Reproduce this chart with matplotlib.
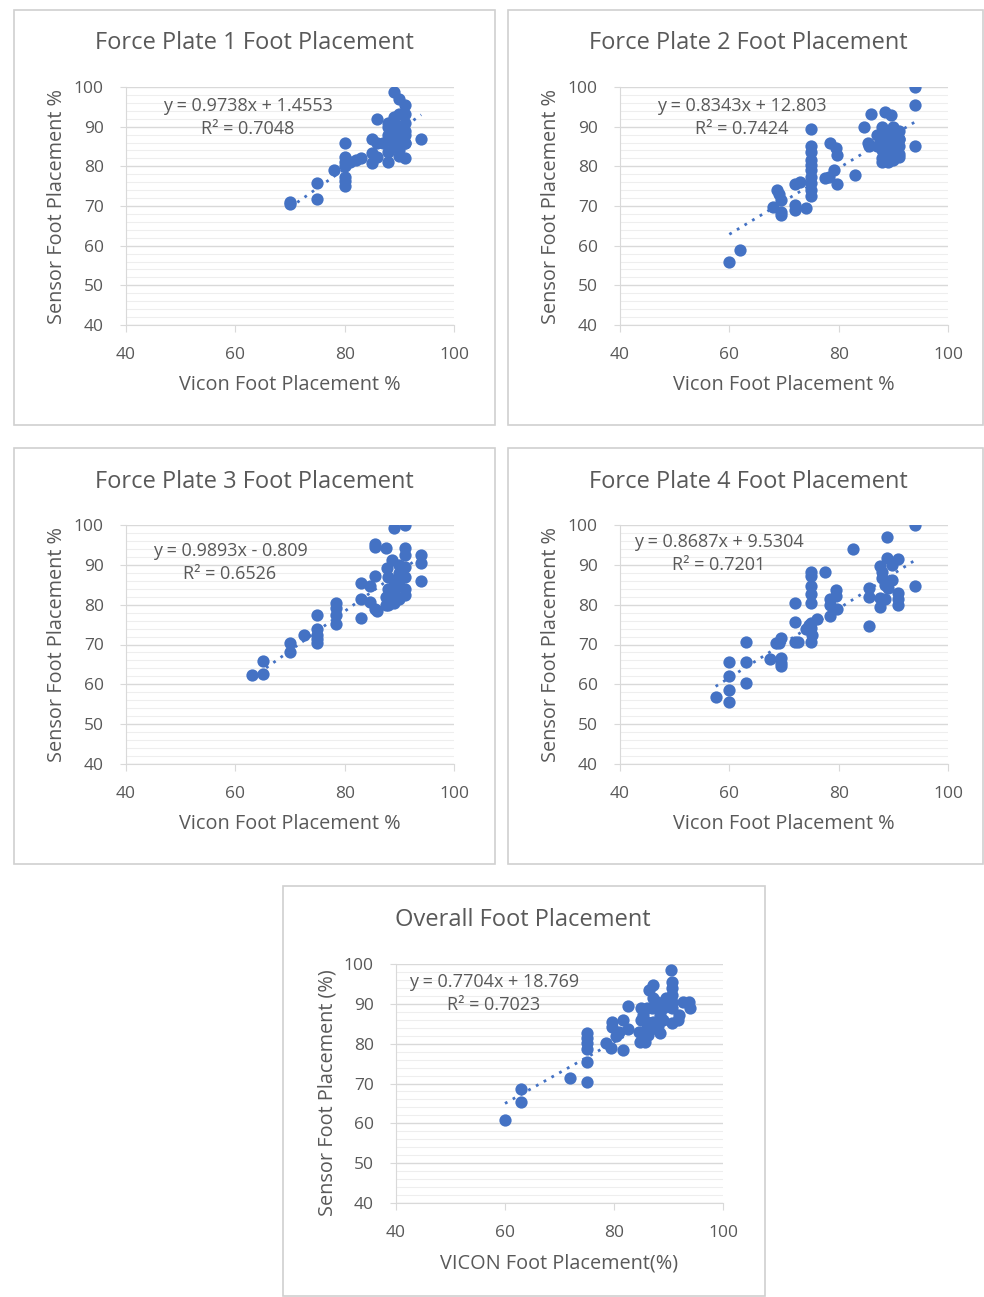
import numpy as np
import matplotlib
matplotlib.use("Agg")
import matplotlib.pyplot as plt
from matplotlib.patches import Rectangle

plt.rcParams['font.family'] = ['Open Sans', 'DejaVu Sans']

# ---- data ----
titles = ["Force Plate 1 Foot Placement", "Force Plate 2 Foot Placement",
          "Force Plate 3 Foot Placement", "Force Plate 4 Foot Placement",
          "Overall Foot Placement"]
xlabels = ["Vicon Foot Placement %"] * 4 + ["VICON Foot Placement(%)"]
ylabels = ["Sensor Foot Placement %"] * 4 + ["Sensor Foot Placement (%)"]
slopes = [0.9738, 0.8343, 0.9893, 0.8687, 0.7704]
intercepts = [1.4553, 12.803, -0.809, 9.5304, 18.769]
equations = ["y = 0.9738x + 1.4553\nR² = 0.7048",
             "y = 0.8343x + 12.803\nR² = 0.7424",
             "y = 0.9893x - 0.809\nR² = 0.6526",
             "y = 0.8687x + 9.5304\nR² = 0.7201",
             "y = 0.7704x + 18.769\nR² = 0.7023"]
axis_ticks = [40, 60, 80, 100]
y_ticks = [40, 50, 60, 70, 80, 90, 100]

fp1_x = [70, 70, 75, 75, 78, 80, 80, 80, 80, 80, 80, 80, 82, 83, 81, 85, 85, 85, 86, 86,
         86, 88, 88, 88, 88, 89, 90, 91, 91, 91, 90, 89, 88, 89, 90, 91, 89, 90, 91, 91,
         90, 89, 88, 87, 90, 91, 94, 91]
fp1_y = [70.5, 71, 75.7, 71.7, 79, 85.8, 82.4, 81.2, 80, 77.4, 76.2, 75.1, 81.5, 82, 81, 87, 83.4, 80.8, 85.8, 82.4,
         92, 81, 83.7, 86.6, 90.8, 98.7, 97, 95.4, 93.3, 90.8, 93.3, 92.5, 90, 88, 87, 86, 85, 84, 88, 89,
         90, 91, 88, 86, 82.5, 82, 87, 86]

fp2_x = [60, 62, 68, 69, 69.4, 69.4, 69.4, 68.8, 72, 72, 72, 73, 74, 75, 75, 75, 75, 75, 75, 75,
         75, 75, 75, 77.5, 78.3, 79.2, 78.5, 79.5, 79.7, 79.7, 83, 86, 84.7, 85.3, 85.6, 88.5, 89.6,
         88, 89, 90, 91, 88, 89, 90, 88, 89, 88, 89, 90, 91, 91, 87, 87, 90, 91, 88, 91, 94, 94, 94, 91]
fp2_y = [56, 59, 69.7, 73, 71.5, 68.6, 67.8, 74, 70.3, 69, 75.6, 76, 69.6, 89.3, 85, 83.7, 81.6, 80.3, 79, 77.4,
         75.7, 74, 72.4, 77, 77.4, 79.2, 85.8, 84.5, 82.8, 75.6, 77.8, 93.3, 89.8, 85.8, 85.1, 93.7, 92.9,
         90, 89, 88, 87, 87, 86, 85, 84, 83, 82, 81, 81.5, 85, 83, 88, 85, 90, 89, 81, 82.3, 100, 95.4, 85.1, 87]

fp3_x = [63, 65, 65, 70, 70, 72.5, 75, 75, 75, 75, 75, 78.5, 78.5, 78.5, 78.5, 83, 83, 83, 84.7, 85.6,
         85.6, 85.5, 87.6, 84.7, 85.6, 86, 89, 91, 91, 91, 87.7, 88.7, 88, 89, 90, 91, 88, 89, 90, 91,
         88, 89, 90, 91, 88, 89, 90, 91, 87.5, 87.5, 94, 94, 94]
fp3_y = [62.3, 65.8, 62.7, 70.4, 68.2, 72.5, 77.3, 73.8, 72.5, 71.3, 70.3, 80.4, 79.2, 77.5, 75.2, 85.4, 81.3, 76.7, 84.6, 87.1,
         95.2, 94.6, 94.3, 80.7, 78.8, 78.3, 99.3, 100, 94.3, 92.5, 89.2, 91.3, 87, 86, 88, 87, 84, 83, 85, 84,
         81.5, 80.5, 81.5, 82.5, 80, 82, 90, 89.5, 82, 80, 92.5, 90.4, 86]

fp4_x = [57.5, 60, 60, 60, 60, 63, 63, 63, 67.5, 68.5, 69.4, 69.4, 69.4, 69.4, 69, 72, 72, 72, 72.5, 75,
         75, 75, 75, 75, 75, 75, 75, 74.5, 74, 76, 75.2, 77.5, 78.5, 78.5, 78.5, 79.5, 79.5, 79.7, 82.6,
         85.5, 85.5, 85.5, 88.8, 88.8, 90.8, 87.6, 88, 88, 88.5, 87.6, 87.6, 88.5, 89.8, 89.8, 90.8, 90.8,
         90.8, 89, 94, 94]
fp4_y = [56.7, 55.6, 58.6, 62.1, 65.7, 70.6, 65.7, 60.4, 66.3, 70.4, 71.7, 66.7, 65.4, 64.5, 70.5, 80.4, 75.6, 70.6, 70.6, 88.3,
         87.2, 84.6, 82.8, 80.4, 75.4, 74.2, 70.6, 75, 73.8, 76.5, 72.5, 88.3, 81.3, 80, 77.1, 83.8, 82.1, 78.8, 94,
         84.2, 81.8, 74.7, 97.1, 91.8, 91.5, 89.6, 88.3, 86.7, 85, 81.7, 79.3, 81.3, 90, 86.3, 82.9, 80,
         81.3, 84.2, 100, 84.8]

all_x = [60, 63, 63, 72, 75, 75, 75, 75, 75, 75, 78.6, 79.5, 81.6, 79.7, 79.7, 81, 81.6, 82.6, 82.6, 80.4,
         84.7, 85.6, 87.2, 86.5, 87.8, 89, 88.4, 87.2, 87.8, 88.4, 86, 85.3, 85, 89.6, 87.2, 86, 86.2,
         90.5, 90.7, 90.7, 90.7, 90.7, 90.7, 90.7, 92, 92.7, 93.8, 93.9, 91.7, 85, 86, 87, 88, 89, 84.5]
all_y = [60.8, 68.5, 65.4, 71.5, 70.5, 75.5, 78.6, 80.1, 81.3, 82.6, 80.1, 78.8, 78.4, 85.5, 84.3, 83, 85.9, 83.8, 89.5, 81.8,
         80.5, 80.5, 94.7, 93.5, 90.5, 88.9, 87.2, 85.5, 83.8, 82.6, 85.5, 87.2, 88.9, 91.4, 91.4, 88.9, 82.2,
         98.5, 95.6, 93.9, 92.2, 90.5, 88.9, 85.1, 87.2, 90.5, 90.5, 88.9, 85.9, 86, 84, 89, 84.5, 86, 83]

xs = [fp1_x, fp2_x, fp3_x, fp4_x, all_x]
ys = [fp1_y, fp2_y, fp3_y, fp4_y, all_y]

# ---- layout (pixels in the 984x1297 picture) ----
W, H = 984, 1297
axes_px = [(126, 87, 454, 325), (620, 87, 948, 325),
           (126, 525, 454, 764), (620, 525, 948, 764),
           (396, 964, 723, 1203)]
boxes_px = [(14, 10, 495, 425), (508, 10, 983, 425),
            (14, 448, 495, 864), (508, 448, 983, 864),
            (283, 886, 765, 1296)]
title_pos = [(254, 43), (748, 43), (254, 482), (748, 482), (523, 920)]
eq_pos = [(0.372, 0.957), (0.372, 0.957), (0.317, 0.927), (0.302, 0.967), (0.30, 0.964)]
ylabel_y = [0.5, 0.5, 0.5, 0.5, 0.46]

blue = '#4472C4'
txt = '#595959'

fig = plt.figure(figsize=(W / 100, H / 100), dpi=100)

for (x0, y0, x1, y1) in boxes_px:
    fig.patches.append(Rectangle((x0 / W, 1 - y1 / H), (x1 - x0) / W, (y1 - y0) / H,
                                 transform=fig.transFigure, fill=False,
                                 edgecolor='#d0d0d0', linewidth=1.2))

for i in range(5):
    x0, y0, x1, y1 = axes_px[i]
    ax = fig.add_axes([x0 / W, 1 - y1 / H, (x1 - x0) / W, (y1 - y0) / H])
    ax.set_xlim(40, 100)
    ax.set_ylim(40, 100)
    ax.set_xticks(axis_ticks)
    ax.set_yticks(y_ticks)
    ax.set_yticks(np.arange(40, 101, 2), minor=True)
    ax.grid(True, which='major', axis='y', color='#d9d9d9', linewidth=1.0)
    ax.grid(True, which='minor', axis='y', color='#eeeeee', linewidth=0.8)
    ax.set_axisbelow(True)
    for s in ['top', 'right']:
        ax.spines[s].set_visible(False)
    ax.spines['left'].set_color('#d9d9d9')
    ax.spines['bottom'].set_color('#d9d9d9')
    ax.tick_params(axis='both', which='major', colors='#d9d9d9', labelcolor=txt,
                   labelsize=12.5, length=5, direction='out')
    ax.tick_params(axis='x', which='major', pad=11)
    ax.tick_params(axis='y', which='major', length=4, pad=12)
    ax.tick_params(axis='y', which='minor', length=0)

    ax.scatter(xs[i], ys[i], s=78, color=blue, zorder=3, linewidths=0)
    xl = np.array([min(xs[i]), max(xs[i])])
    ax.plot(xl, slopes[i] * xl + intercepts[i], color=blue, linewidth=2,
            linestyle=(0, (1, 2.2)), zorder=2)

    ax.text(eq_pos[i][0], eq_pos[i][1], equations[i], transform=ax.transAxes,
            ha='center', va='top', fontsize=13, color=txt, linespacing=1.35)

    ax.set_xlabel(xlabels[i], fontsize=14.3, color=txt, va='center')
    ax.xaxis.set_label_coords(0.5, -60 / (y1 - y0))
    ax.set_ylabel(ylabels[i], fontsize=14.3, color=txt, va='center')
    ax.yaxis.set_label_coords(-69 / (x1 - x0), ylabel_y[i])

    fig.text(title_pos[i][0] / W, 1 - title_pos[i][1] / H, titles[i],
             ha='center', va='center', fontsize=17, color=txt)

fig.savefig('out.png', dpi=100, facecolor='white')
